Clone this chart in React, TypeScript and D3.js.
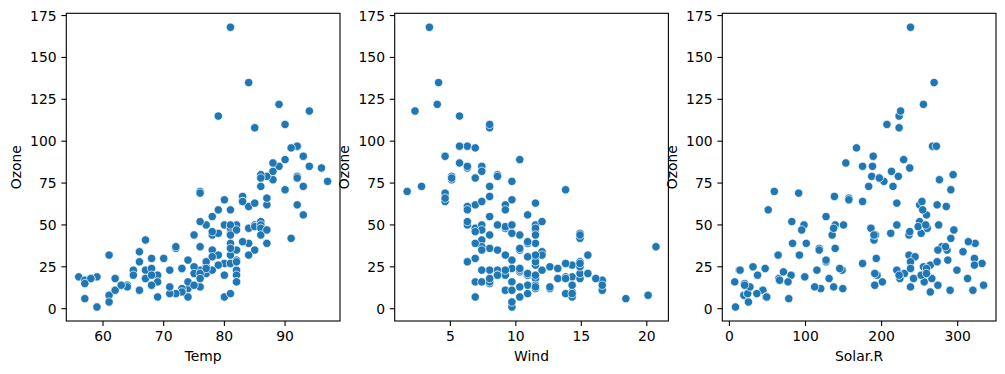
import React from "react";
import * as d3 from "d3";

// airquality rows 1..153; missing Ozone / Solar.R filled with values
const ozone = [
  41, 36, 12, 18, 19, 28, 23, 19, 8, 20, 7, 16, 11, 14, 18, 14, 34, 6, 30, 11,
  1, 11, 4, 32, 17, 18, 15, 23, 45, 115, 37, 35, 29, 18, 48, 50, 26, 29, 62, 71,
  39, 56, 62, 23, 27, 26, 21, 37, 20, 12, 13, 50, 70, 69, 52, 44, 55, 24, 50, 25,
  67, 135, 49, 32, 39, 64, 40, 77, 97, 97, 85, 50, 10, 27, 42, 7, 48, 35, 61, 79,
  63, 16, 50, 47, 80, 108, 20, 52, 82, 50, 64, 59, 39, 9, 16, 78, 35, 66, 122, 89,
  110, 79, 48, 44, 28, 65, 32, 22, 59, 23, 31, 44, 21, 9, 25, 45, 168, 73, 87, 76,
  118, 84, 85, 96, 78, 73, 91, 47, 32, 20, 23, 21, 24, 44, 21, 28, 9, 13, 46, 18,
  13, 24, 16, 13, 23, 36, 7, 14, 30, 24, 14, 18, 20,
];
const solar = [
  190, 118, 149, 313, 99, 127, 299, 99, 19, 194, 49, 256, 290, 274, 65, 334, 307, 78, 322, 44,
  8, 320, 25, 92, 66, 266, 20, 13, 252, 223, 279, 286, 287, 242, 186, 220, 264, 127, 273, 291,
  323, 259, 250, 148, 332, 322, 191, 284, 37, 120, 137, 150, 59, 91, 250, 135, 127, 47, 98, 31,
  138, 269, 248, 236, 101, 175, 314, 276, 267, 272, 175, 139, 264, 175, 291, 48, 260, 274, 285, 187,
  220, 7, 258, 295, 294, 223, 81, 82, 213, 275, 253, 254, 83, 24, 77, 197, 118, 157, 255, 229,
  207, 222, 137, 192, 273, 157, 64, 71, 51, 115, 244, 190, 259, 36, 255, 212, 238, 215, 153, 203,
  225, 237, 188, 167, 197, 183, 189, 95, 92, 252, 220, 230, 259, 236, 259, 238, 24, 112, 237, 224,
  27, 238, 201, 238, 14, 139, 49, 20, 193, 145, 191, 131, 223,
];
const wind = [
  7.4, 8.0, 12.6, 11.5, 14.3, 14.9, 8.6, 13.8, 20.1, 8.6, 6.9, 9.7, 9.2, 10.9, 13.2, 11.5, 12.0, 18.4, 11.5, 9.7,
  9.7, 16.6, 9.7, 12.0, 16.6, 14.9, 8.0, 12.0, 14.9, 5.7, 7.4, 8.6, 9.7, 16.1, 9.2, 8.6, 14.3, 9.7, 6.9, 13.8,
  11.5, 10.9, 9.2, 8.0, 13.8, 11.5, 14.9, 20.7, 9.2, 11.5, 10.3, 6.3, 1.7, 4.6, 6.3, 8.0, 8.0, 10.3, 11.5, 14.9,
  8.0, 4.1, 9.2, 9.2, 10.9, 4.6, 10.9, 5.1, 6.3, 5.7, 7.4, 8.6, 14.3, 14.9, 14.9, 14.3, 6.9, 10.3, 6.3, 5.1,
  11.5, 6.9, 9.7, 11.5, 8.6, 8.0, 8.6, 12.0, 7.4, 7.4, 7.4, 9.2, 6.9, 13.8, 7.4, 6.9, 7.4, 4.6, 4.0, 10.3,
  8.0, 8.6, 11.5, 11.5, 11.5, 9.7, 11.5, 10.3, 6.3, 7.4, 10.9, 10.3, 15.5, 14.3, 12.6, 9.7, 3.4, 8.0, 5.7, 9.7,
  2.3, 6.3, 6.3, 6.9, 5.1, 2.8, 4.6, 7.4, 15.5, 10.9, 10.3, 10.9, 9.7, 14.9, 15.5, 6.3, 10.9, 11.5, 6.9, 13.8,
  10.3, 10.3, 8.0, 12.6, 9.2, 10.3, 10.3, 16.6, 6.9, 13.2, 14.3, 8.0, 11.5,
];
const temp = [
  67, 72, 74, 62, 56, 66, 65, 59, 61, 69, 74, 69, 66, 68, 58, 64, 66, 57, 68, 62,
  59, 73, 61, 61, 57, 58, 57, 67, 81, 79, 76, 78, 74, 67, 84, 85, 79, 82, 87, 90,
  87, 93, 92, 82, 80, 79, 77, 72, 65, 73, 76, 77, 76, 76, 76, 75, 78, 73, 80, 77,
  83, 84, 85, 81, 84, 83, 83, 88, 92, 92, 89, 82, 73, 81, 91, 80, 81, 82, 84, 87,
  85, 74, 81, 82, 86, 85, 82, 86, 88, 86, 83, 81, 81, 81, 82, 86, 85, 87, 89, 90,
  90, 92, 86, 86, 82, 80, 79, 77, 79, 76, 78, 78, 77, 72, 75, 79, 81, 86, 88, 97,
  94, 96, 94, 91, 92, 93, 93, 87, 84, 80, 78, 75, 73, 81, 76, 77, 71, 71, 78, 67,
  76, 68, 82, 64, 71, 81, 69, 63, 70, 77, 75, 76, 68,
];

const panels = [
  { label: "Temp", xs: temp, ticks: [60, 70, 80, 90] },
  { label: "Wind", xs: wind, ticks: [5, 10, 15, 20] },
  { label: "Solar.R", xs: solar, ticks: [0, 100, 200, 300] },
];
const ozoneTicks = [0, 25, 50, 75, 100, 125, 150, 175];

const W = 1005;
const H = 374;
const lefts = [66.3, 394.7, 722.3];
const axW = 273.7;
const top = 13.3;
const bottom = 321;
const font = "'DejaVu Sans', sans-serif";
const fs = 13.9;

const padded = (vals: number[]) => {
  const [a, b] = d3.extent(vals) as [number, number];
  const m = (b - a) * 0.05;
  return [a - m, b + m];
};

export default function App() {
  const y = d3.scaleLinear().domain(padded(ozone)).range([bottom, top]);
  return (
    <svg
      width={W}
      height={H}
      style={{ position: "absolute", left: 0, top: 0, background: "#fff" }}
      fontFamily={font}
      fontSize={fs}
    >
      {panels.map((p, i) => {
        const left = lefts[i];
        const x = d3.scaleLinear().domain(padded(p.xs)).range([left, left + axW]);
        return (
          <g key={p.label}>
            {p.xs.map((v, j) => (
              <circle
                key={j}
                cx={x(v)}
                cy={y(ozone[j])}
                r={4.17}
                fill="#1f77b4"
                stroke="#fff"
                strokeWidth={0.7}
              />
            ))}
            <rect
              x={left}
              y={top}
              width={axW}
              height={bottom - top}
              fill="none"
              stroke="#000"
              strokeWidth={1.1}
            />
            {p.ticks.map((t) => (
              <g key={t}>
                <line x1={x(t)} x2={x(t)} y1={bottom} y2={bottom + 4.9} stroke="#000" strokeWidth={1.1} />
                <text x={x(t)} y={bottom + 20.3} textAnchor="middle" fill="#000">
                  {t}
                </text>
              </g>
            ))}
            {ozoneTicks.map((t) => (
              <g key={t}>
                <line x1={left - 4.9} x2={left} y1={y(t)} y2={y(t)} stroke="#000" strokeWidth={1.1} />
                <text x={left - 9.7} y={y(t)} dy="0.36em" textAnchor="end" fill="#000">
                  {t}
                </text>
              </g>
            ))}
            <text x={left + axW / 2} y={361} textAnchor="middle" fill="#000">
              {p.label}
            </text>
            <text
              transform={`translate(${left - 45.3},${(top + bottom) / 2}) rotate(-90)`}
              textAnchor="middle"
              fill="#000"
            >
              Ozone
            </text>
          </g>
        );
      })}
    </svg>
  );
}
